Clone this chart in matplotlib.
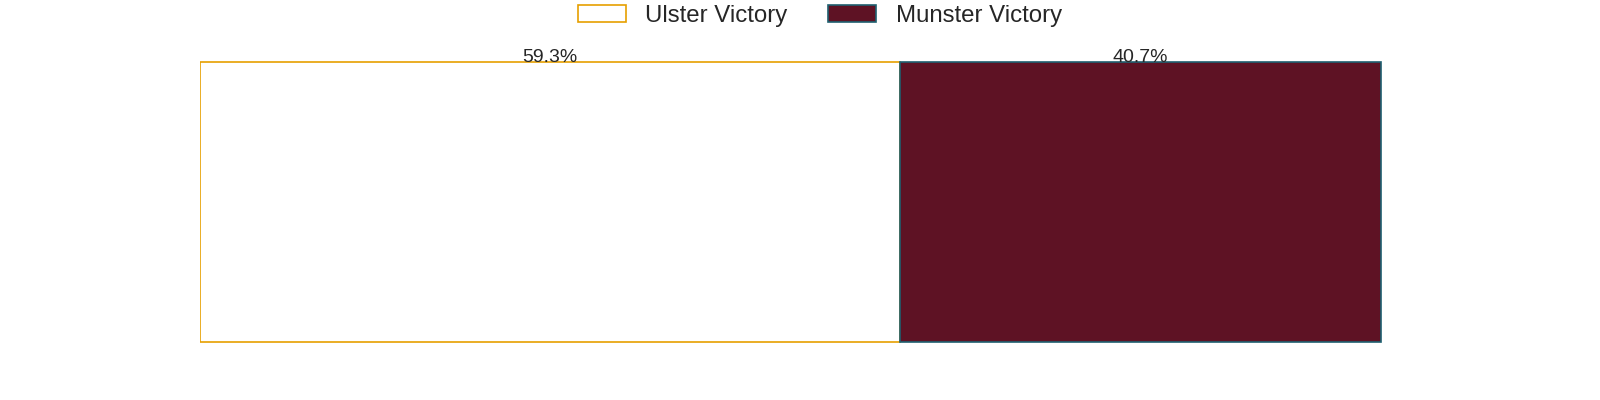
import matplotlib.pyplot as plt
import seaborn as sns

sns.set_style("white")
plt.rcParams['font.family'] = ['Liberation Sans', 'DejaVu Sans']

labels = ['Ulster Victory', 'Munster Victory']
shares = [59.3, 40.7]
fills = ['#FFFFFF', '#5E1224']
edges = ['#E69F00', '#1F6070']

fig = plt.figure(figsize=(16, 4), dpi=100)
ax = plt.subplot(111)

left = 0
for lab, val, fc, ec in zip(labels, shares, fills, edges):
    ax.barh(0, val, left=left, height=0.8, color=fc, edgecolor=ec,
            linewidth=1.2, label=lab)
    ax.annotate('{}%'.format(val), (left + val / 2, 0.4), xytext=(0, -3),
                textcoords='offset points', ha='center', va='bottom',
                fontsize=14, color='#262626')
    left += val

ax.set_xlim(0, 105)
ax.set_xticks([])
ax.set_yticks([])
for s in ax.spines.values():
    s.set_visible(False)

ax.legend(loc='upper center', bbox_to_anchor=(0.5, 1.21), ncol=2,
          frameon=False, fontsize='xx-large', columnspacing=1.7)
plt.savefig('out.png')
